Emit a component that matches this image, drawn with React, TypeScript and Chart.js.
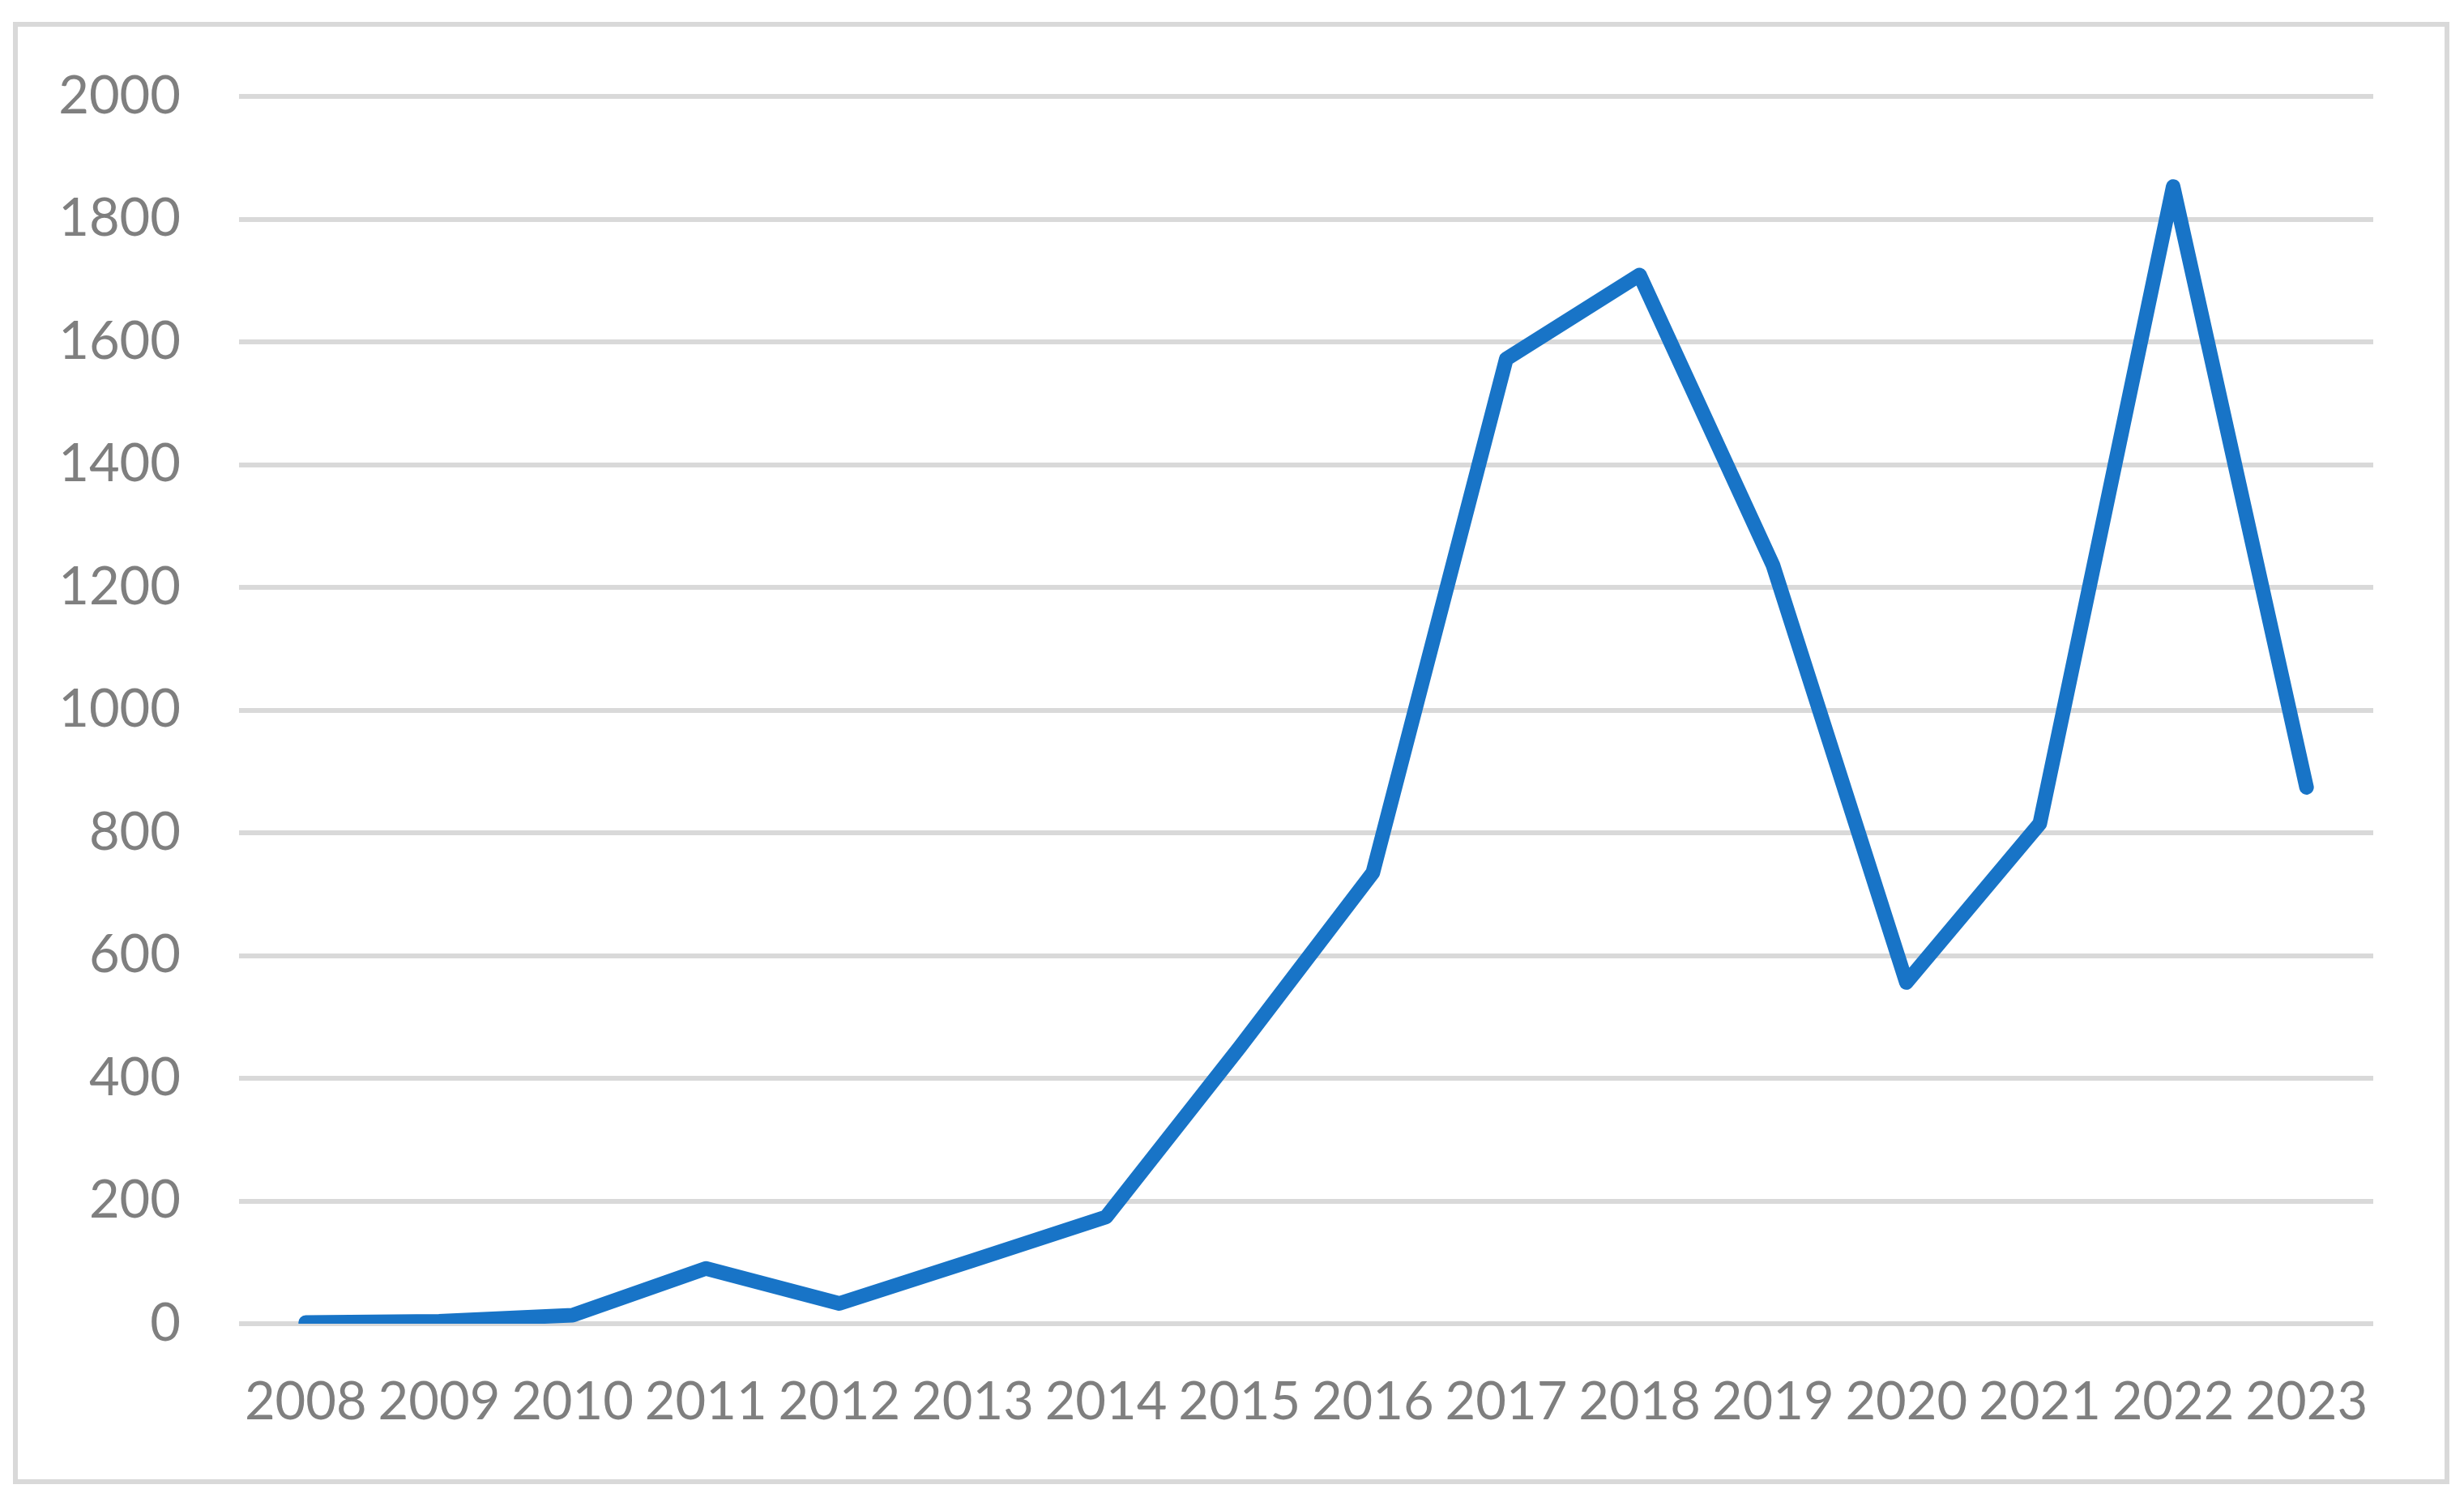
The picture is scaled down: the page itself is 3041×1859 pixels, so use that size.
import React, { useEffect, useRef } from "react";
import { Chart, registerables } from "chart.js";

Chart.register(...registerables);

const years: string[] = [
  "2008", "2009", "2010", "2011", "2012", "2013", "2014", "2015",
  "2016", "2017", "2018", "2019", "2020", "2021", "2022", "2023",
];
const counts: number[] = [
  2, 4, 14, 90, 33, 103, 174, 450, 735, 1572, 1709, 1236, 556, 815, 1853, 874,
];
const yMin = 0;
const yMax = 2000;
const yStep = 200;

const W = 3041;
const H = 1859;
const FONT = "Lato, 'Open Sans', sans-serif";
const TEXT = "#7f7f7f";
const GRID = "#d9d9d9";
const LINE = "#1874c7";

export default function App() {
  const ref = useRef<HTMLCanvasElement | null>(null);

  useEffect(() => {
    if (!ref.current) return;
    const chart = new Chart(ref.current, {
      type: "line",
      data: {
        labels: years,
        datasets: [
          {
            data: counts,
            borderColor: LINE,
            backgroundColor: LINE,
            borderWidth: 18,
            borderCapStyle: "round",
            borderJoinStyle: "round",
            pointRadius: 0,
            pointHoverRadius: 0,
            tension: 0,
            fill: false,
          },
        ],
      },
      options: {
        animation: false,
        responsive: false,
        devicePixelRatio: 1,
        layout: { padding: { left: 0, right: 112, top: 119, bottom: 75 } },
        plugins: {
          legend: { display: false },
          tooltip: { enabled: false },
          title: { display: false },
        },
        scales: {
          x: {
            type: "category",
            offset: true,
            grid: { display: false, drawTicks: false },
            border: { display: false },
            ticks: {
              color: TEXT,
              font: { family: FONT, size: 65, lineHeight: 1.2 },
              padding: 58,
              maxRotation: 0,
              minRotation: 0,
              autoSkip: false,
            },
            afterFit: (s: any) => {
              s.height = 150;
            },
          },
          y: {
            min: yMin,
            max: yMax,
            grid: { color: GRID, lineWidth: 6, drawTicks: false },
            border: { display: false },
            ticks: {
              stepSize: yStep,
              color: TEXT,
              font: { family: FONT, size: 65, lineHeight: 1.2 },
              padding: 72,
              callback: (v: any) => String(v),
            },
            afterFit: (s: any) => {
              s.width = 295;
            },
          },
        },
      },
    });
    return () => chart.destroy();
  }, []);

  return (
    <div
      style={{
        position: "absolute",
        left: 0,
        top: 0,
        width: W,
        height: H,
        background: "#ffffff",
        overflow: "hidden",
      }}
    >
      <div
        style={{
          position: "absolute",
          left: 16,
          top: 27,
          width: 3023 - 16,
          height: 1832 - 27,
          border: `6px solid ${GRID}`,
          boxSizing: "border-box",
        }}
      />
      <canvas
        ref={ref}
        width={W}
        height={H}
        style={{ position: "absolute", left: 0, top: 0, width: W, height: H }}
      />
    </div>
  );
}
